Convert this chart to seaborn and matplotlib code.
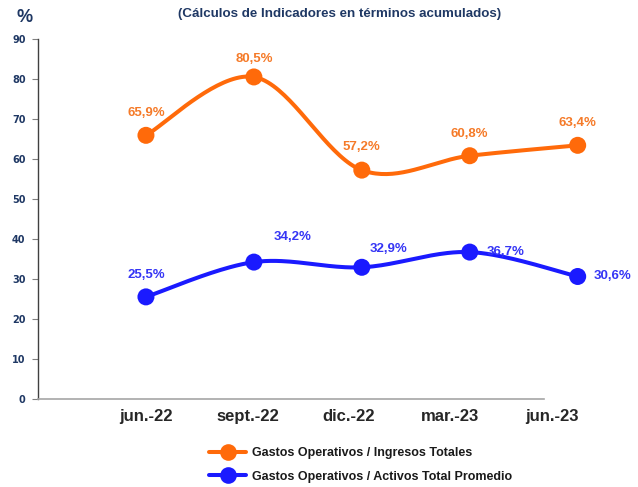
import numpy as np
import pandas as pd
import matplotlib.pyplot as plt
import seaborn as sns
from matplotlib.lines import Line2D

# data (percent)
periods = ["jun.-22", "sept.-22", "dic.-22", "mar.-23", "jun.-23"]
gastos_ingresos = [65.9, 80.5, 57.2, 60.8, 63.4]
gastos_activos = [25.5, 34.2, 32.9, 36.7, 30.6]
series_names = ["Gastos Operativos / Ingresos Totales",
                "Gastos Operativos / Activos Total Promedio"]

ORANGE = "#FF6A0A"
BLUE = "#1A1AFF"
ORANGE_TXT = "#F57A28"
BLUE_TXT = "#3535F5"
NAVY = "#1F3864"


def smooth_curve(x, y, n=40):
    # Excel-like smoothing: cubic bezier through points, catmull-rom tangents
    x = np.asarray(x, float)
    y = np.asarray(y, float)
    px = np.concatenate([[x[0]], x, [x[-1]]])
    py = np.concatenate([[y[0]], y, [y[-1]]])
    t = np.linspace(0, 1, n)[:, None]
    xs, ys = [], []
    for i in range(1, len(px) - 2):
        p0 = np.array([px[i], py[i]])
        p3 = np.array([px[i + 1], py[i + 1]])
        c1 = p0 + (p3 - np.array([px[i - 1], py[i - 1]])) / 6
        c2 = p3 - (np.array([px[i + 2], py[i + 2]]) - p0) / 6
        pts = ((1 - t) ** 3) * p0 + 3 * ((1 - t) ** 2) * t * c1 \
            + 3 * (1 - t) * t ** 2 * c2 + t ** 3 * p3
        xs.append(pts[:, 0])
        ys.append(pts[:, 1])
    return np.concatenate(xs), np.concatenate(ys)


sns.set_theme(style="white")
plt.rcParams['font.family'] = ['Liberation Sans', 'DejaVu Sans']

pos = np.arange(len(periods))
df = pd.DataFrame({
    "pos": np.tile(pos, 2),
    "valor": gastos_ingresos + gastos_activos,
    "serie": [series_names[0]] * len(periods) + [series_names[1]] * len(periods),
})

fig = plt.figure(figsize=(6.38, 4.87), dpi=100)
ax = fig.add_axes([0.0596, 0.181, 0.8966, 0.739])

colors = {series_names[0]: ORANGE, series_names[1]: BLUE}
for name in series_names:
    sub = df[df.serie == name]
    sx, sy = smooth_curve(sub.pos, sub.valor)
    ax.plot(sx, sy, color=colors[name], lw=2.9, solid_capstyle="round",
            clip_on=False, zorder=2)

sns.scatterplot(data=df, x="pos", y="valor", hue="serie", palette=colors,
                s=150, edgecolor="none", legend=False, ax=ax, zorder=3,
                clip_on=False)

# data labels (offsets in points)
off_orange = [(0, 16), (0, 13), (0, 16.5), (0, 16), (0, 16)]
off_blue = [(0, 16), (28, 18), (19.5, 13.5), (26, 0), (25, 0)]
for i, v in enumerate(gastos_ingresos):
    ax.annotate(f"{v:.1f}%".replace(".", ","), (pos[i], v),
                xytext=off_orange[i], textcoords="offset points",
                ha="center", va="center", fontsize=9.5, fontweight="bold",
                color=ORANGE_TXT, zorder=4)
for i, v in enumerate(gastos_activos):
    ax.annotate(f"{v:.1f}%".replace(".", ","), (pos[i], v),
                xytext=off_blue[i], textcoords="offset points",
                ha="center", va="center", fontsize=9.5, fontweight="bold",
                color=BLUE_TXT, zorder=4)

ax.set_xlim(-1.0, 4.3)
ax.set_ylim(0, 90)
ax.set_yticks(np.arange(0, 91, 10))
ax.set_xticks(pos * 0.94)
ax.set_xticklabels(periods)
ax.set_xlabel("")
ax.set_ylabel("")

for s in ["top", "right"]:
    ax.spines[s].set_visible(False)
ax.spines["bottom"].set_bounds(-1.0, 3.69)
ax.spines["bottom"].set_color("#A6A6A6")
ax.spines["bottom"].set_linewidth(1.2)
ax.spines["left"].set_color("#404040")
ax.spines["left"].set_linewidth(1.0)

ax.tick_params(axis="y", left=True, length=4, width=0.8, color="#808080",
               pad=5, labelcolor=NAVY)
for lab in ax.get_yticklabels():
    lab.set_fontweight("bold")
    lab.set_family("DejaVu Sans")
    lab.set_fontsize(7)
ax.tick_params(axis="x", bottom=False, length=0, pad=7, labelsize=12,
               labelcolor="#262626")
for lab in ax.get_xticklabels():
    lab.set_fontweight("bold")

fig.text(0.533, 0.971, "(Cálculos de Indicadores en términos acumulados)",
         ha="center", va="center", fontsize=9.6, fontweight="bold", color=NAVY)
fig.text(0.039, 0.965, "%", ha="center", va="center", fontsize=13,
         fontweight="bold", color=NAVY)

handles = [Line2D([0], [0], color=colors[n], lw=2.9, marker="o",
                  markersize=12, markeredgewidth=0) for n in series_names]
leg = ax.legend(handles, series_names, loc="center",
                bbox_to_anchor=(0.565, 0.045),
                bbox_transform=fig.transFigure, frameon=False,
                fontsize=9, labelspacing=0.9, handlelength=3.0,
                handletextpad=0.45)
for t in leg.get_texts():
    t.set_fontweight("bold")
    t.set_color("#1A1A1A")

fig.savefig("out.png", dpi=100)
